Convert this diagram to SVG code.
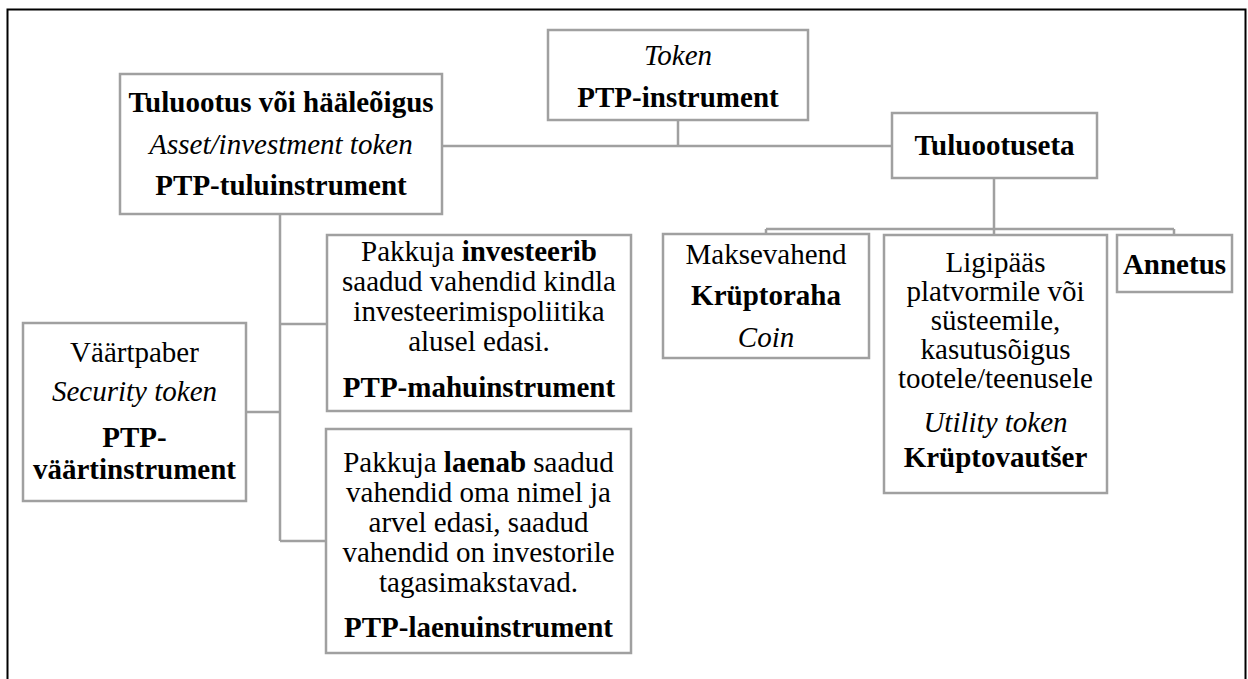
<svg xmlns="http://www.w3.org/2000/svg" width="1248" height="679" viewBox="0 0 1248 679">
<style>
.box{fill:#fff;stroke:#a0a0a0;stroke-width:2.5}
.con{fill:none;stroke:#a0a0a0;stroke-width:2.5}
text{font-family:'Liberation Serif','DejaVu Serif',serif;font-size:29px;fill:#000;text-anchor:middle}
.b{font-weight:bold}
.i{font-style:italic}
</style>
<rect x="0" y="0" width="1248" height="679" fill="#fff"/>
<rect x="7.5" y="9.5" width="1238" height="720" fill="none" stroke="#000" stroke-width="2"/>
<g id="connectors">
<path class="con" d="M678,120 V146 M442,146 H892"/>
<path class="con" d="M994,178 V229 M766,229 H1174 M766,229 V234 M1174,229 V235 M994,229 V235"/>
<path class="con" d="M280,214 V541 M280,324 H327 M246,412 H280 M280,541 H326"/>
</g>
<g font-family="Liberation Serif, DejaVu Serif, serif">
<g id="token">
<rect class="box" x="548" y="30" width="260" height="90"/>
<text x="678" y="65" class="i">Token</text>
<text x="678" y="107" class="b">PTP-instrument</text>
</g>
<g id="tuluootus">
<rect class="box" x="120" y="74" width="322" height="140"/>
<text x="281" y="112" class="b">Tuluootus või hääleõigus</text>
<text x="281" y="154" class="i">Asset/investment token</text>
<text x="281" y="195" class="b">PTP-tuluinstrument</text>
</g>
<g id="tuluootuseta">
<rect class="box" x="892" y="113" width="205" height="65"/>
<text x="994.5" y="155" class="b">Tuluootuseta</text>
</g>
<g id="maksevahend">
<rect class="box" x="663" y="234" width="206" height="124"/>
<text x="766" y="264">Maksevahend</text>
<text x="766" y="305" class="b">Krüptoraha</text>
<text x="766" y="347" class="i">Coin</text>
</g>
<g id="ligipaas">
<rect class="box" x="884" y="235" width="223" height="258"/>
<text x="995.5" y="272">Ligipääs</text>
<text x="995.5" y="301">platvormile või</text>
<text x="995.5" y="330">süsteemile,</text>
<text x="995.5" y="359">kasutusõigus</text>
<text x="995.5" y="388">tootele/teenusele</text>
<text x="995.5" y="432" class="i">Utility token</text>
<text x="995.5" y="467" class="b">Krüptovautšer</text>
</g>
<g id="annetus">
<rect class="box" x="1117" y="235" width="115" height="57"/>
<text x="1174.5" y="274" class="b">Annetus</text>
</g>
<g id="vaartpaber">
<rect class="box" x="23" y="323" width="223" height="178"/>
<text x="134.5" y="362">Väärtpaber</text>
<text x="134.5" y="401" class="i">Security token</text>
<text x="134.5" y="447" class="b">PTP-</text>
<text x="134.5" y="479" class="b">väärtinstrument</text>
</g>
<g id="mahuinstrument">
<rect class="box" x="327" y="235" width="304" height="176"/>
<text x="479" y="261">Pakkuja <tspan class="b">investeerib</tspan></text>
<text x="479" y="291">saadud vahendid kindla</text>
<text x="479" y="321">investeerimispoliitika</text>
<text x="479" y="351">alusel edasi.</text>
<text x="479" y="397" class="b">PTP-mahuinstrument</text>
</g>
<g id="laenuinstrument">
<rect class="box" x="326" y="429" width="305" height="224"/>
<text x="478.5" y="472">Pakkuja <tspan class="b">laenab</tspan> saadud</text>
<text x="478.5" y="502">vahendid oma nimel ja</text>
<text x="478.5" y="532">arvel edasi, saadud</text>
<text x="478.5" y="562">vahendid on investorile</text>
<text x="478.5" y="592">tagasimakstavad.</text>
<text x="478.5" y="637" class="b">PTP-laenuinstrument</text>
</g>
</g>
</svg>
